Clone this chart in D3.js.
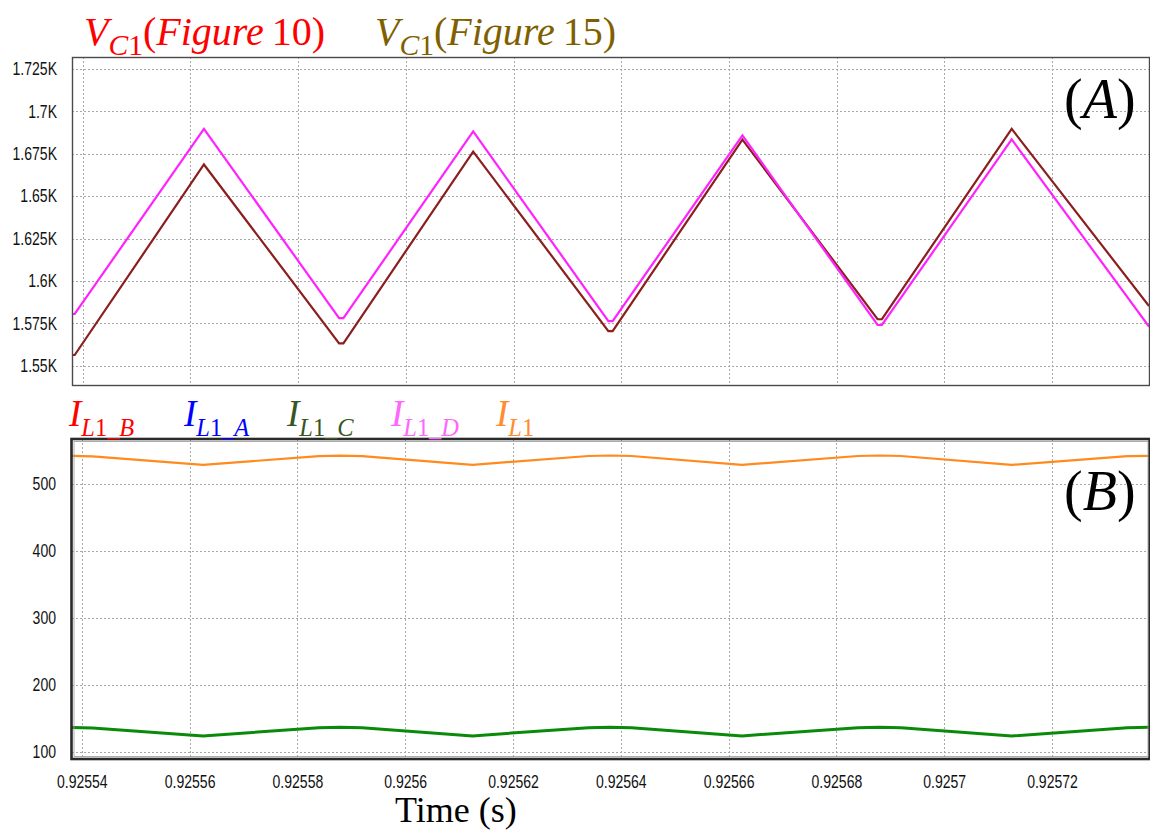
<!DOCTYPE html>
<html>
<head>
<meta charset="utf-8">
<script src="https://cdn.jsdelivr.net/npm/d3@7"></script>
<style>
  html, body { margin: 0; padding: 0; background: #fff; }
  svg { display: block; }
  .tick text { font-family: "Liberation Sans", Arial, sans-serif; fill: #111; }
  .math { font-family: "Liberation Serif", "Times New Roman", serif; }
</style>
</head>
<body>
<svg id="chart" width="1150" height="831"></svg>
<script>
// ---- time axis (seconds) ----
const timeTicks = [0.92554, 0.92556, 0.92558, 0.9256, 0.92562, 0.92564, 0.92566, 0.92568, 0.9257, 0.92572];
const timeTickLabels = ["0.92554", "0.92556", "0.92558", "0.9256", "0.92562", "0.92564", "0.92566", "0.92568", "0.9257", "0.92572"];

// ---- panel (A): capacitor voltage ----
const voltTicks = [1550, 1575, 1600, 1625, 1650, 1675, 1700, 1725];
const voltTickLabels = ["1.55K", "1.575K", "1.6K", "1.625K", "1.65K", "1.675K", "1.7K", "1.725K"];

const vcTime = [0.925538, 0.9255385, 0.9255625, 0.9255876, 0.9255884, 0.9256125, 0.9256376, 0.9256384, 0.9256625, 0.9256876, 0.9256884, 0.9257125, 0.925738];
// magenta trace
const vcFig10 = [1580.5, 1580.5, 1689.7, 1578.0, 1578.0, 1688.2, 1576.3, 1576.3, 1685.8, 1574.0, 1574.0, 1683.5, 1573.0];
// dark red trace
const vcFig15 = [1556.3, 1556.3, 1668.7, 1563.2, 1563.2, 1676.3, 1570.4, 1570.4, 1683.4, 1577.4, 1577.4, 1689.7, 1585.2];

// ---- panel (B): inductor currents ----
const currTicks = [100, 200, 300, 400, 500];
const currTickLabels = ["100", "200", "300", "400", "500"];

const iTime = [0.925538, 0.925542, 0.9255625, 0.925584, 0.925588, 0.925592, 0.9256125, 0.925634, 0.925638, 0.925642, 0.9256625, 0.925684, 0.925688, 0.925692, 0.9257125, 0.925734, 0.925738];
// total input current I_L1
const iL1 = [541.8, 541.0, 528.4, 541.5, 542.3, 541.5, 528.5, 541.6, 542.4, 541.6, 528.5, 541.6, 542.4, 541.6, 528.4, 541.4, 541.9];
// phase current I_L1_C
const iL1C = [136.4, 135.6, 123.9, 136.2, 136.9, 136.2, 124.0, 136.3, 137.0, 136.3, 124.0, 136.3, 137.0, 136.3, 123.9, 136.2, 136.9];

const svg = d3.select("#chart");
svg.append("rect").attr("width", 1150).attr("height", 831).attr("fill", "#fff");

const X0 = 72, X1 = 1149;
const A = { top: 57, bottom: 385 };
const B = { top: 439, bottom: 759 };

const xA = d3.scaleLinear().domain([0.925538, 0.925738]).range([X0, X1]);
const xB = d3.scaleLinear().domain([0.925538, 0.925738]).range([X0 - 1, X1]);
const yA = d3.scaleLinear().domain([1538.6, 1732.1]).range([A.bottom, A.top]);
const yB = d3.scaleLinear().domain([89.5, 567]).range([B.bottom, B.top]);

const SX = 0.78;      // horizontal squeeze of the tick-label font
const TICK_FS = 18;

function grid(g, x, y, yTicks, top, bottom, left, right) {
  g.selectAll("line.v").data(timeTicks).join("line")
    .attr("x1", d => Math.round(x(d)) + 0.5).attr("x2", d => Math.round(x(d)) + 0.5)
    .attr("y1", top).attr("y2", bottom)
    .attr("stroke", "#a8a8a8").attr("stroke-width", 1).attr("stroke-dasharray", "2,2");
  g.selectAll("line.h").data(yTicks).join("line")
    .attr("y1", d => Math.round(y(d)) + 0.5).attr("y2", d => Math.round(y(d)) + 0.5)
    .attr("x1", left).attr("x2", right)
    .attr("stroke", "#a8a8a8").attr("stroke-width", 1).attr("stroke-dasharray", "2,2");
}

function squeezeY(g, pad) {
  g.select(".domain").remove();
  g.selectAll(".tick line").remove();
  g.selectAll(".tick text")
    .attr("font-size", TICK_FS)
    .attr("x", -pad / SX)
    .attr("transform", `scale(${SX},1)`);
}

// ---------- Panel A ----------
svg.append("defs").call(d => {
  d.append("clipPath").attr("id", "clipA").append("rect")
    .attr("x", X0).attr("y", A.top).attr("width", X1 - X0).attr("height", A.bottom - A.top);
  d.append("clipPath").attr("id", "clipB").append("rect")
    .attr("x", X0).attr("y", B.top).attr("width", X1 - X0).attr("height", B.bottom - B.top);
});

const gA = svg.append("g");
grid(gA, xA, yA, voltTicks, A.top, A.bottom, X0, X1);

gA.append("g").attr("transform", `translate(${X0},0)`)
  .call(d3.axisLeft(yA).tickValues(voltTicks).tickSize(0)
    .tickFormat((d, i) => voltTickLabels[i]))
  .call(g => squeezeY(g, 15));

const lineA = d3.line().x((d, i) => xA(vcTime[i])).y(d => yA(d));
gA.append("path").datum(vcFig15).attr("d", lineA)
  .attr("clip-path", "url(#clipA)")
  .attr("fill", "none").attr("stroke", "#8b1e1e").attr("stroke-width", 2.2);
gA.append("path").datum(vcFig10).attr("d", lineA)
  .attr("clip-path", "url(#clipA)")
  .attr("fill", "none").attr("stroke", "#ff22ff").attr("stroke-width", 2.2);

gA.append("rect").attr("x", X0 + 0.5).attr("y", A.top + 0.5)
  .attr("width", X1 - X0).attr("height", A.bottom - A.top)
  .attr("fill", "none").attr("stroke", "#4a4a4a").attr("stroke-width", 1.4);

// ---------- Panel B ----------
const gB = svg.append("g");
grid(gB, xB, yB, currTicks, B.top, B.bottom, X0, X1);

gB.append("g").attr("transform", `translate(${X0 - 1},0)`)
  .call(d3.axisLeft(yB).tickValues(currTicks).tickSize(0)
    .tickFormat((d, i) => currTickLabels[i]))
  .call(g => squeezeY(g, 15));

gB.append("g").attr("transform", `translate(0,${B.bottom})`)
  .call(d3.axisBottom(xB).tickValues(timeTicks).tickSize(0).tickPadding(16)
    .tickFormat((d, i) => timeTickLabels[i]))
  .call(g => {
    g.select(".domain").remove();
    g.selectAll(".tick line").remove();
    g.selectAll(".tick text").attr("font-size", TICK_FS).attr("transform", `scale(${SX},1)`);
  });

const lineB = d3.line().x((d, i) => xB(iTime[i])).y(d => yB(d));
gB.append("path").datum(iL1).attr("d", lineB)
  .attr("clip-path", "url(#clipB)")
  .attr("fill", "none").attr("stroke", "#ff8a1e").attr("stroke-width", 2.2);
gB.append("path").datum(iL1C).attr("d", lineB)
  .attr("clip-path", "url(#clipB)")
  .attr("fill", "none").attr("stroke", "#0a8a0a").attr("stroke-width", 3);

gB.append("rect").attr("x", X0 - 0.5).attr("y", B.top)
  .attr("width", X1 - X0 + 1).attr("height", B.bottom - B.top)
  .attr("fill", "none").attr("stroke", "#2a2a2a").attr("stroke-width", 2.6);
gB.append("rect").attr("x", X0 + 2).attr("y", B.top + 2.5)
  .attr("width", X1 - X0 - 3).attr("height", B.bottom - B.top - 5)
  .attr("fill", "none").attr("stroke", "#9a9a9a").attr("stroke-width", 0.8);

// ---------- legends and labels ----------
// each part: [text, italic?, subscript?]
function mathLabel(x, y, size, color, parts, subScale = 0.74) {
  const t = svg.append("text").attr("class", "math").attr("x", x).attr("y", y)
    .attr("font-size", size).attr("fill", color);
  let sub = false;
  parts.forEach(([txt, it, s]) => {
    const ts = t.append("tspan").text(txt)
      .attr("font-style", it ? "italic" : "normal");
    if (s && !sub) { ts.attr("dy", size * 0.26); }
    if (!s && sub) { ts.attr("dy", -size * 0.26); }
    if (s) ts.attr("font-size", size * subScale);
    sub = s;
  });
  return t;
}

const legendA = [
  { x: 84, color: "#ff0000", fig: "10" },
  { x: 375, color: "#7f6000", fig: "15" }
];
legendA.forEach(l => mathLabel(l.x, 45, 40, l.color, [
  ["V", true, false], ["C", true, true], ["1", false, true],
  ["(", false, false], ["Figure", true, false], ["\u2009" + l.fig, false, false], [")", false, false]
]));

const legendB = [
  { x: 69, color: "#ff0000", sub: "B" },
  { x: 184, color: "#0000ff", sub: "A" },
  { x: 287, color: "#375623", sub: "C" },
  { x: 391, color: "#ff66ff", sub: "D" },
  { x: 496, color: "#ff8c2e", sub: null }
];
legendB.forEach(l => {
  const parts = [["I", true, false], ["L", true, true], ["1", false, true]];
  if (l.sub) parts.push(["_" + l.sub, true, true]);
  mathLabel(l.x, 426, 37, l.color, parts, 0.66);
});

mathLabel(1064, 118, 56, "#000", [["(", false, false], ["A", true, false], [")", false, false]]);
mathLabel(1064, 510, 56, "#000", [["(", false, false], ["B", true, false], [")", false, false]]);

svg.append("text").attr("class", "math").attr("x", 395).attr("y", 822)
  .attr("font-size", 36).attr("fill", "#000").text("Time (s)");
</script>
</body>
</html>
